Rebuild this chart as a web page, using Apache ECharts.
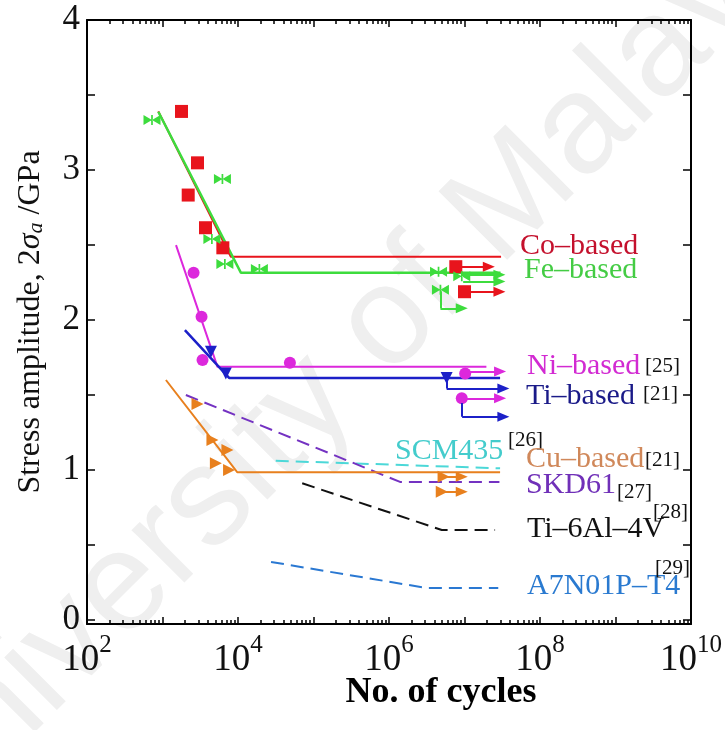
<!DOCTYPE html>
<html>
<head>
<meta charset="utf-8">
<script src="https://cdn.jsdelivr.net/npm/echarts@6/dist/echarts.min.js"></script>
<style>
html,body{margin:0;padding:0;background:#fff;}
#chart{width:725px;height:730px;}
</style>
</head>
<body>
<div id="chart"></div>
<script>
// ---------------- data (cycles, stress amplitude GPa) ----------------
const coLine   = [[880,3.39],[8040,2.42],[3.05e7,2.42]];
const coPoints = [[1786,3.39],[2910,3.047],[2190,2.832],[3710,2.614],[6300,2.48],[7.67e6,2.354],[1.0e7,2.187]];
const coRunouts = [[[7.67e6,2.354],[2.1e7,2.354]],[[1.0e7,2.187],[2.9e7,2.187]]];

const feLine   = [[880,3.388],[10900,2.314],[3.0e7,2.314]];
const fePoints = [[726,3.332],[6220,2.939],[4510,2.538],[6700,2.372],[19200,2.338],[4.53e6,2.32],[9.2e6,2.29],[4.8e6,2.2]];
const feRunouts = [[[9.2e6,2.30],[2.9e7,2.30]],[[9.6e6,2.255],[2.9e7,2.255]],[[4.8e6,2.19],[4.8e6,2.076],[9.2e6,2.076]]];

const niLine   = [[1510,2.498],[5350,1.686],[1.95e7,1.686]];
const niPoints = [[2580,2.314],[3290,2.02],[3390,1.731],[48700,1.713],[1.02e7,1.642],[9.2e6,1.476]];
const niRunouts = [[[1.02e7,1.655],[2.96e7,1.655]],[[9.2e6,1.476],[2.96e7,1.476]]];

const tiLine   = [[1980,1.931],[7620,1.612],[2.96e7,1.612]];
const tiPoints = [[4380,1.786],[6900,1.642],[5.8e6,1.612]];
const tiRunouts = [[[5.8e6,1.60],[5.8e6,1.542],[3.27e7,1.542]],[[9.3e6,1.444],[9.3e6,1.353],[3.27e7,1.353]]];

const cuLine   = [[1110,1.598],[9820,0.982],[2.96e7,0.982]];
const cuPoints = [[2910,1.438],[4590,1.197],[7240,1.131],[5090,1.042],[7620,0.997],[5.28e6,0.953],[5.0e6,0.853]];
const cuRunouts = [[[5.28e6,0.953],[9.2e6,0.953]],[[5.0e6,0.853],[9.2e6,0.853]]];

const scmLine  = [[31600,1.059],[2.96e7,1.009]];
const skdLine  = [[2040,1.498],[1.4e6,0.918],[2.9e7,0.918]];
const ti64Line = [[70900,0.909],[5.0e6,0.597],[2.54e7,0.597]];
const a7nLine  = [[27400,0.384],[3.15e6,0.21],[2.8e7,0.21]];

const xLabelValues = [1e2,1e4,1e6,1e8,1e10];
const yLabelValues = [0,1,2,3,4];
const yTickValues  = [0,0.5,1,1.5,2,2.5,3,3.5,4];
// ---------------------------------------------------------------------

const decades = [];
const minors = [];
for (let e = 2; e <= 10; e++) {
  decades.push(Math.pow(10, e));
  if (e < 10) for (let m = 2; m <= 9; m++) minors.push(m * Math.pow(10, e));
}

const SERIF = 'Liberation Serif';
const bowtie = 'path://M0,0L10,5L0,10ZM20,0L10,5L20,10ZM9,0L11,0L11,10L9,10Z';

function segs(runs, color) {
  const data = [];
  runs.forEach(run => {
    for (let i = 0; i < run.length - 1; i++) {
      const last = i === run.length - 2;
      data.push([
        {coord: run[i], symbol: 'none'},
        {coord: run[i + 1], symbol: last ? 'triangle' : 'none', symbolSize: last ? [10, 12] : 0}
      ]);
    }
  });
  return {
    silent: true, animation: false, label: {show: false},
    lineStyle: {type: 'solid', width: 2, color: color, opacity: 1},
    emphasis: {disabled: true},
    data: data
  };
}
function lineSeries(name, data, color, dashed, width) {
  return {
    name, type: 'line', data, symbol: 'none', animation: false, silent: true,
    lineStyle: {color, width: width || 2, type: dashed ? [13, 7] : 'solid'},
    z: 3
  };
}
function pointSeries(name, data, color, symbol, size, runs, rotate) {
  return {
    name: name + ' pts', type: 'scatter', data, symbol, symbolSize: size,
    symbolRotate: rotate || 0, animation: false, silent: true,
    itemStyle: {color, opacity: 1}, z: 4,
    markLine: runs ? segs(runs, color) : undefined
  };
}

const C = {
  co: '#e8141c', fe: '#3ddc3d', ni: '#dc28dc', ti: '#1c20c8', cu: '#e8801e',
  scm: '#4cd8d8', skd: '#7432c2', ti64: '#111111', a7n: '#2a78d2'
};

const axisLineStyle = {color: '#000', width: 2};
function xAx(pos, values, len, withLine, labels) {
  return {
    type: 'log', logBase: 10, min: 100, max: 1e10, position: pos,
    axisLine: {show: withLine, onZero: false, lineStyle: axisLineStyle},
    axisTick: {show: true, inside: true, length: len, customValues: values, lineStyle: {color: '#000', width: 1.5}},
    minorTick: {show: false}, splitLine: {show: false},
    axisLabel: labels ? {
      customValues: xLabelValues, margin: 9,
      formatter: v => '{b|10}{e|' + Math.round(Math.log10(v)) + '}',
      rich: {
        b: {fontFamily: SERIF, fontSize: 37, color: '#111', lineHeight: 46, verticalAlign: 'bottom'},
        e: {fontFamily: SERIF, fontSize: 25, color: '#111', lineHeight: 26, verticalAlign: 'top'}
      }
    } : {show: false},
    name: labels ? 'No. of cycles' : '',
    nameLocation: 'middle', nameGap: 51, nameMoveOverlap: false,
    nameTextStyle: {fontFamily: SERIF, fontWeight: 'bold', fontSize: 36, color: '#000', padding: [0, 0, 0, 104]}
  };
}
function yAx(pos, labels) {
  return {
    type: 'value', min: -0.03, max: 4, position: pos,
    axisLine: {show: true, onZero: false, lineStyle: axisLineStyle},
    axisTick: {show: true, inside: true, length: 8, customValues: yTickValues, lineStyle: {color: '#000', width: 1.5}},
    splitLine: {show: false},
    axisLabel: labels ? {customValues: yLabelValues, fontFamily: SERIF, fontSize: 35, color: '#111', margin: 7} : {show: false},
    name: labels ? 'Stress amplitude, 2{i|σ}{s|a} /GPa' : '',
    nameLocation: 'middle', nameGap: 40, nameMoveOverlap: false,
    nameTextStyle: {
      fontFamily: SERIF, fontSize: 32, color: '#111',
      rich: {
        i: {fontFamily: SERIF, fontStyle: 'italic', fontSize: 32, color: '#111'},
        s: {fontFamily: SERIF, fontStyle: 'italic', fontSize: 22, color: '#111', verticalAlign: 'bottom', lineHeight: 24}
      }
    }
  };
}

function label(text, x, y, color, size) {
  return {
    type: 'text', x, y, silent: true, z: 10,
    style: {text, fill: color, font: (size || 30) + 'px "' + SERIF + '"', verticalAlign: 'middle', align: 'left'}
  };
}

const chart = echarts.init(document.getElementById('chart'), null, {renderer: 'canvas'});
chart.setOption({
  backgroundColor: '#fff',
  animation: false,
  grid: {left: 87, right: 32, top: 20, bottom: 106, containLabel: false},
  xAxis: [
    xAx('bottom', decades, 7, true, true),
    xAx('bottom', minors, 4, false, false),
    xAx('top', decades, 7, true, false),
    xAx('top', minors, 4, false, false)
  ],
  yAxis: [yAx('left', true), yAx('right', false)],
  graphic: [
    {type: 'text', x: 344, y: 368, rotation: Math.PI / 4, z: -10, silent: true,
     style: {text: 'University of Malaya', fill: '#efefef', font: '141px "Liberation Sans"', align: 'center', verticalAlign: 'middle'}},
    label('Co\u2013based', 520, 246, '#c4102c'),
    label('Fe\u2013based', 524, 270, '#44cc44'),
    label('Ni\u2013based', 527, 366, '#d22ad2'),
    label('[25]', 645, 366, '#111', 21),
    label('Ti\u2013based', 526, 396, '#1a1a88'),
    label('[21]', 643, 394, '#111', 21),
    label('SCM435', 395, 451, '#44cccc'),
    label('[26]', 508, 440, '#111', 21),
    label('Cu\u2013based', 526, 459, '#d0885a'),
    label('[21]', 645, 460, '#111', 21),
    label('SKD61', 526, 485, '#7030b8'),
    label('[27]', 617, 492, '#111', 21),
    label('Ti\u20136Al\u20134V', 527, 529, '#111'),
    label('[28]', 653, 512, '#111', 21),
    label('A7N01P\u2013T4', 527, 586, '#2a7ad0'),
    label('[29]', 655, 568, '#111', 21)
  ],
  series: [
    lineSeries('SCM435', scmLine, C.scm, true),
    lineSeries('SKD61', skdLine, C.skd, true),
    lineSeries('Ti-6Al-4V', ti64Line, C.ti64, true),
    lineSeries('A7N01P-T4', a7nLine, C.a7n, true),
    lineSeries('Co-based', coLine, C.co, false),
    lineSeries('Fe-based', feLine, C.fe, false, 2.5),
    lineSeries('Ni-based', niLine, C.ni, false),
    lineSeries('Ti-based', tiLine, C.ti, false, 2.5),
    lineSeries('Cu-based', cuLine, C.cu, false),
    pointSeries('Co-based', coPoints, C.co, 'rect', 13, coRunouts),
    pointSeries('Fe-based', fePoints, C.fe, bowtie, [17, 10], feRunouts),
    pointSeries('Ni-based', niPoints, C.ni, 'circle', 12, niRunouts),
    pointSeries('Ti-based', tiPoints, C.ti, 'triangle', 12, tiRunouts, 180),
    pointSeries('Cu-based', cuPoints, C.cu, 'triangle', 12, cuRunouts, -90)
  ]
});
</script>
</body>
</html>
